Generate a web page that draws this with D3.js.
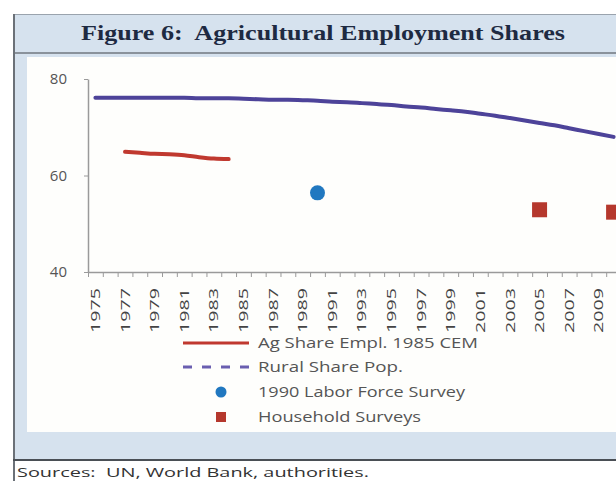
<!DOCTYPE html>
<html><head><meta charset="utf-8">
<script src="https://cdn.jsdelivr.net/npm/d3@7"></script>
<style>body{margin:0;background:#fff;}svg{display:block;}</style>
</head><body>
<svg id="chart" width="616" height="481"></svg>
<script>
const years = d3.range(1975, 2011);
const xLabelYears = d3.range(1975, 2011, 2);
const yTicks = [40, 60, 80];

const agShareYears = [1977, 1978, 1979, 1980, 1981, 1982, 1983, 1984];
const agShareValues = [64.9, 64.7, 64.5, 64.4, 64.2, 63.8, 63.5, 63.4];

const ruralValues = [76.1, 76.1, 76.1, 76.1, 76.1, 76.1, 76.1, 76.0, 76.0, 76.0,
  75.9, 75.8, 75.7, 75.7, 75.6, 75.5, 75.3, 75.2, 75.0, 74.8,
  74.6, 74.3, 74.1, 73.8, 73.5, 73.2, 72.8, 72.4, 71.9, 71.4,
  70.9, 70.4, 69.8, 69.2, 68.6, 68.0];

const laborYears = [1990];
const laborValues = [56.4];

const householdYears = [2005, 2010];
const householdValues = [52.9, 52.4];

const legendLabels = ["Ag Share Empl. 1985 CEM", "Rural Share Pop.", "1990 Labor Force Survey", "Household Surveys"];
const titleText = "Figure 6:  Agricultural Employment Shares";
const sourceText = "Sources:  UN, World Bank, authorities.";

const RED = "#c0392f", PURPLE = "#4d4399", BLUE = "#2178c0", SQ = "#b5382d";

const svg = d3.select("#chart");

// frame
svg.append("rect").attr("x", 13).attr("y", 14).attr("width", 620).attr("height", 446).attr("fill", "#d6e2ee");
svg.append("line").attr("x1", 13).attr("x2", 616).attr("y1", 14.5).attr("y2", 14.5).attr("stroke", "#9aa3ad").attr("stroke-width", 1);
svg.append("line").attr("x1", 13).attr("x2", 616).attr("y1", 53).attr("y2", 53).attr("stroke", "#8a929b").attr("stroke-width", 2);
svg.append("rect").attr("x", 27).attr("y", 57).attr("width", 600).attr("height", 375).attr("fill", "#fefefc");
svg.append("line").attr("x1", 14).attr("x2", 14).attr("y1", 14).attr("y2", 481).attr("stroke", "#6b7178").attr("stroke-width", 2);
svg.append("line").attr("x1", 13).attr("x2", 616).attr("y1", 460).attr("y2", 460).attr("stroke", "#4a4f55").attr("stroke-width", 2);

svg.append("text").attr("x", 323).attr("y", 40).attr("text-anchor", "middle").style("white-space", "pre")
  .attr("font-family", "Liberation Serif, Times New Roman, serif").attr("font-weight", "bold")
  .attr("font-size", 21).attr("fill", "#1e2a42").attr("textLength", 484).attr("lengthAdjust", "spacingAndGlyphs")
  .text(titleText);

svg.append("text").attr("x", 17).attr("y", 477).style("white-space", "pre")
  .attr("font-family", "Open Sans, sans-serif").attr("font-size", 13).attr("fill", "#333")
  .attr("textLength", 352).attr("lengthAdjust", "spacingAndGlyphs")
  .text(sourceText);

// scales
const x = d3.scaleBand().domain(years).range([88, 621]).padding(0);
const xEdge = d3.scaleLinear().domain([1974.5, 2010.5]).range([88, 621]);
const y = d3.scaleLinear().domain([40, 80]).range([272, 79]);
const cx = yr => x(yr) + x.bandwidth() / 2;

// y axis
const ya = svg.append("g").attr("transform", "translate(88,0)")
  .call(d3.axisLeft(y).tickValues(yTicks).tickSize(4).tickPadding(17).tickSizeOuter(0));
ya.select(".domain").attr("stroke", "#9a9a9a").attr("stroke-width", 1.5);
ya.selectAll(".tick line").attr("stroke", "#9a9a9a");
ya.selectAll(".tick text").attr("font-family", "Open Sans, sans-serif").attr("font-size", 15).attr("fill", "#555");

// x axis ticks at boundaries
const xt = svg.append("g").attr("transform", "translate(0,272)")
  .call(d3.axisBottom(xEdge).tickValues(d3.range(1974.5, 2011, 1)).tickSize(5).tickFormat("").tickSizeOuter(0));
xt.select(".domain").attr("stroke", "#9a9a9a").attr("stroke-width", 1.5);
xt.selectAll(".tick line").attr("stroke", "#9a9a9a");

// x labels
const xl = svg.append("g").attr("transform", "translate(0,272)")
  .call(d3.axisBottom(x).tickValues(xLabelYears).tickSize(0).tickPadding(0));
xl.select(".domain").remove();
xl.selectAll(".tick text")
  .attr("transform", "translate(0,16) rotate(-90)")
  .attr("text-anchor", "end").attr("x", 0).attr("y", 0).attr("dy", "0.35em")
  .attr("font-family", "Open Sans, sans-serif").attr("font-size", 13).attr("fill", "#444")
  .attr("textLength", 45).attr("lengthAdjust", "spacingAndGlyphs");

// lines
const line = d3.line().x(d => cx(d[0])).y(d => y(d[1])).curve(d3.curveMonotoneX);
svg.append("path").datum(years.map((yr, i) => [yr, ruralValues[i]]))
  .attr("d", line).attr("fill", "none").attr("stroke", PURPLE).attr("stroke-width", 4).attr("stroke-linecap", "round");
svg.append("path").datum(agShareYears.map((yr, i) => [yr, agShareValues[i]]))
  .attr("d", line).attr("fill", "none").attr("stroke", RED).attr("stroke-width", 4).attr("stroke-linecap", "round");

svg.selectAll(".lab").data(laborYears).enter().append("circle")
  .attr("cx", d => cx(d)).attr("cy", (d, i) => y(laborValues[i])).attr("r", 7.5).attr("fill", BLUE);

svg.selectAll(".hh").data(householdYears).enter().append("rect")
  .attr("x", d => cx(d) - 7.5).attr("y", (d, i) => y(householdValues[i]) - 7.5)
  .attr("width", 15).attr("height", 15).attr("fill", SQ);

// legend
const legY = [343, 367, 392, 417];
const lg = svg.append("g");
lg.append("line").attr("x1", 183).attr("x2", 249).attr("y1", legY[0]).attr("y2", legY[0]).attr("stroke", RED).attr("stroke-width", 3);
lg.append("line").attr("x1", 183).attr("x2", 249).attr("y1", legY[1]).attr("y2", legY[1]).attr("stroke", "#6a5fb0").attr("stroke-width", 3).attr("stroke-dasharray", "9,10");
lg.append("circle").attr("cx", 221).attr("cy", legY[2]).attr("r", 5.5).attr("fill", BLUE);
lg.append("rect").attr("x", 216).attr("y", legY[3] - 5).attr("width", 10).attr("height", 10).attr("fill", SQ);
const legW = [220, 145, 207, 163];
lg.selectAll("text").data(legendLabels).enter().append("text")
  .attr("x", 258).attr("y", (d, i) => legY[i]).attr("dy", "0.35em")
  .attr("font-family", "Open Sans, sans-serif").attr("font-size", 15).attr("fill", "#555")
  .attr("textLength", (d, i) => legW[i]).attr("lengthAdjust", "spacingAndGlyphs")
  .text(d => d);
</script>
</body></html>
